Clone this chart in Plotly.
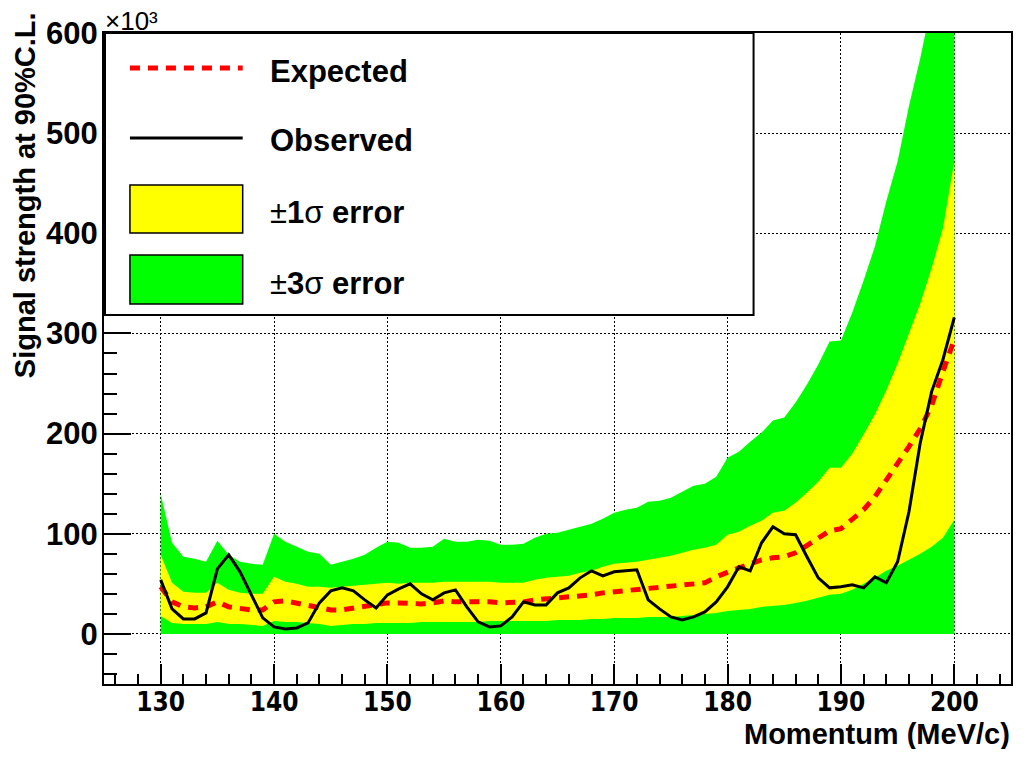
import plotly.graph_objects as go

# momentum points (MeV/c)
momentum = list(range(130, 201))

# signal strength at 90% C.L., in units of 10^3
expected = [47, 32, 27, 26, 27, 32, 27, 25, 24, 24,
            32, 33, 31, 29, 27, 24, 24, 26, 27, 29,
            31, 31, 30, 30, 31, 33, 32, 32, 33, 32,
            31, 31, 32, 34, 35, 36, 37, 37, 39, 41,
            42, 43, 45, 46, 46, 47, 49, 50, 51, 57,
            62, 66, 70, 74, 76, 77, 81, 88, 96, 103,
            105, 115, 124, 137, 153, 169, 187, 205, 228, 262,
            294]
observed = [54, 25, 15, 15, 21, 65, 79, 62, 39, 16,
            7, 5, 6, 11, 31, 43, 46, 43, 34, 26,
            39, 45, 50, 40, 34, 41, 44, 27, 12, 7,
            8, 17, 32, 29, 29, 41, 46, 56, 63, 58,
            62, 63, 64, 34, 25, 17, 14, 17, 22, 32,
            47, 67, 63, 91, 107, 100, 99, 77, 56, 46,
            47, 49, 46, 57, 51, 72, 122, 191, 242, 274,
            316]
sigma1_up = [79, 51, 42, 41, 41, 51, 44, 41, 40, 40,
             57, 52, 50, 47, 47, 46, 47, 48, 49, 50,
             51, 50, 51, 51, 51, 52, 52, 52, 52, 52,
             51, 51, 51, 54, 56, 57, 58, 61, 63, 67,
             70, 71, 72, 74, 76, 78, 81, 84, 86, 89,
             99, 102, 108, 113, 121, 123, 131, 141, 152, 166,
             166, 180, 199, 219, 243, 270, 300, 330, 365, 405,
             472]
sigma1_lo = [18, 11, 10, 10, 10, 12, 10, 10, 9, 8,
             13, 12, 12, 11, 10, 8, 9, 10, 10, 11,
             11, 11, 11, 12, 12, 12, 12, 12, 12, 13,
             13, 13, 13, 13, 13, 14, 14, 14, 15, 15,
             16, 16, 16, 17, 17, 17, 18, 19, 20, 21,
             23, 24, 25, 27, 28, 29, 31, 33, 36, 39,
             40, 44, 50, 56, 63, 68, 74, 80, 87, 96,
             114]
sigma3_up = [140, 91, 77, 75, 72, 93, 79, 72, 70, 69,
             100, 92, 87, 82, 80, 69, 72, 75, 79, 86,
             92, 91, 86, 86, 87, 95, 92, 92, 94, 93,
             89, 89, 90, 96, 100, 101, 104, 107, 110, 115,
             121, 124, 126, 132, 133, 136, 142, 148, 150, 157,
             176, 182, 192, 201, 213, 216, 231, 249, 269, 292,
             293, 321, 353, 387, 432, 472, 527, 575, 630, 690,
             760]
sigma3_lo = [0, 0, 0, 0, 0, 0, 0, 0, 0, 0,
             0, 0, 0, 0, 0, 0, 0, 0, 0, 0,
             0, 0, 0, 0, 0, 0, 0, 0, 0, 0,
             0, 0, 0, 0, 0, 0, 0, 0, 0, 0,
             0, 0, 0, 0, 0, 0, 0, 0, 0, 0,
             0, 0, 0, 0, 0, 0, 0, 0, 0, 0,
             0, 0, 0, 0, 0, 0, 0, 0, 0, 0,
             0]

legend_labels = ["<b>Expected</b>", "<b>Observed</b>",
                 "±<b>1</b>σ <b>error</b>", "±<b>3</b>σ <b>error</b>"]

# frame position on screen (pixels); the page body adds an 8px margin
OFF = 8
L, R, T, B = 104, 1013, 33, 684
W, H = 1029 - 2 * OFF, 757 - 2 * OFF


def px(x):
    return (x - L) / (R - L)


def py(y):
    return (B - y) / (B - T)


GREEN = "#00ff00"
YELLOW = "#ffff00"
FONT = "Liberation Sans, Arial, Helvetica, sans-serif"
NARROW = "DejaVu Sans Condensed, Liberation Sans, sans-serif"

fig = go.Figure()
fig.add_trace(go.Scatter(x=momentum, y=sigma3_lo, mode="lines", line=dict(width=0),
                         hoverinfo="skip", showlegend=False))
fig.add_trace(go.Scatter(x=momentum, y=sigma3_up, mode="lines", line=dict(width=0),
                         fill="tonexty", fillcolor=GREEN, showlegend=False))
fig.add_trace(go.Scatter(x=momentum, y=sigma1_lo, mode="lines", line=dict(width=0),
                         hoverinfo="skip", showlegend=False))
fig.add_trace(go.Scatter(x=momentum, y=sigma1_up, mode="lines", line=dict(width=0),
                         fill="tonexty", fillcolor=YELLOW, showlegend=False))
fig.add_trace(go.Scatter(x=momentum, y=expected, mode="lines",
                         line=dict(color="red", width=5, dash="10px,8px"), showlegend=False))
fig.add_trace(go.Scatter(x=momentum, y=observed, mode="lines",
                         line=dict(color="black", width=3), showlegend=False))

axis_common = dict(
    showline=True, linecolor="black", linewidth=2, mirror=True,
    showgrid=True, gridcolor="black", gridwidth=1, griddash="2px,2px",
    zeroline=False, ticks="inside", tickcolor="black", tickwidth=2,
)

fig.update_xaxes(
    range=[125, 205], tick0=130, dtick=10, ticklen=20, ticklabelstandoff=-6,
    tickfont=dict(family=NARROW, size=26, color="black", weight="bold"),
    minor=dict(dtick=2, tick0=130, ticks="inside", ticklen=10, tickcolor="black",
               tickwidth=2, showgrid=False),
    **axis_common,
)
fig.update_yaxes(
    range=[-50, 600], tick0=0, dtick=100, ticklen=27, ticklabelstandoff=-2,
    tickfont=dict(family=FONT, size=31, color="black", weight="bold"),
    minor=dict(dtick=20, tick0=0, ticks="inside", ticklen=13, tickcolor="black",
               tickwidth=2, showgrid=False),
    **axis_common,
)

shapes = [
    # legend box
    dict(type="rect", xref="paper", yref="paper", x0=px(105), x1=px(755), y0=py(315), y1=py(33),
         fillcolor="white", line=dict(color="black", width=2), layer="above"),
    dict(type="line", xref="paper", yref="paper", x0=px(130), x1=px(243), y0=py(68), y1=py(68),
         line=dict(color="red", width=5, dash="10px,8px"), layer="above"),
    dict(type="line", xref="paper", yref="paper", x0=px(130), x1=px(243), y0=py(138), y1=py(138),
         line=dict(color="black", width=3), layer="above"),
    dict(type="rect", xref="paper", yref="paper", x0=px(130), x1=px(243), y0=py(233), y1=py(185),
         fillcolor=YELLOW, line=dict(color="black", width=1.5), layer="above"),
    dict(type="rect", xref="paper", yref="paper", x0=px(130), x1=px(243), y0=py(304), y1=py(255),
         fillcolor=GREEN, line=dict(color="black", width=1.5), layer="above"),
]

annotations = []
for label, ypix in zip(legend_labels, [72, 141, 212, 283]):
    annotations.append(dict(
        text=label, xref="paper", yref="paper", x=px(268), y=py(ypix),
        xanchor="left", yanchor="middle", showarrow=False,
        font=dict(family=FONT, size=31, color="black"),
    ))

annotations += [
    dict(text="<b>Momentum (MeV/c)</b>", xref="paper", yref="paper",
         x=px(1014), y=py(734), xanchor="right", yanchor="middle", showarrow=False,
         font=dict(family=FONT, size=29, color="black")),
    dict(text="<b>Signal strength at 90%C.L.</b>", xref="paper", yref="paper",
         x=px(25), y=py(10), xanchor="center", yanchor="top", textangle=-90, showarrow=False,
         font=dict(family=FONT, size=29, color="black")),
    dict(text="×10³", xref="paper", yref="paper",
         x=px(103), y=py(21), xanchor="left", yanchor="middle", showarrow=False,
         font=dict(family=FONT, size=26, color="black")),
]

fig.update_layout(
    width=W, height=H,
    margin=dict(l=L - OFF, r=W + OFF - R, t=T - OFF, b=H + OFF - B),
    paper_bgcolor="white", plot_bgcolor="white",
    shapes=shapes, annotations=annotations,
    showlegend=False,
)

fig.write_html("out.html")
